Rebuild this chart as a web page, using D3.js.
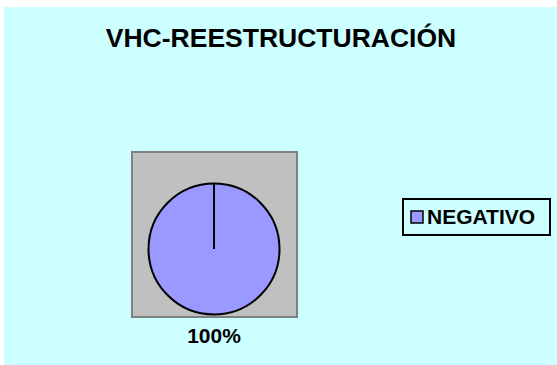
<!DOCTYPE html>
<html>
<head>
<meta charset="utf-8">
<script src="https://cdn.jsdelivr.net/npm/d3@7"></script>
<style>
  html, body { margin: 0; padding: 0; background: #ffffff; }
  #my_dataviz { width: 557px; height: 365px; }
  text { font-family: "Liberation Sans", Arial, sans-serif; font-weight: bold; fill: #000; }
</style>
</head>
<body>
<div id="my_dataviz"></div>
<script>
// chart data
var title = "VHC-REESTRUCTURACIÓN";
var categories = ["NEGATIVO"];
var values = [100];
var colors = ["#9999FF"];

var width = 557, height = 365;

var svg = d3.select("#my_dataviz")
  .append("svg")
  .attr("width", width)
  .attr("height", height)
  .style("display", "block");

// chart area background
svg.append("rect")
  .attr("x", 4).attr("y", 7)
  .attr("width", width - 4).attr("height", height - 7)
  .attr("fill", "#CCFFFF");

svg.append("text")
  .attr("x", 281).attr("y", 47)
  .attr("text-anchor", "middle")
  .style("font-size", "26.5px")
  .text(title);

// plot area (grey square)
svg.append("rect")
  .attr("x", 132).attr("y", 152)
  .attr("width", 165).attr("height", 165)
  .attr("fill", "#C0C0C0")
  .attr("stroke", "#808080")
  .attr("stroke-width", 2);

var cx = 214, cy = 249, r = 65.5;
var total = d3.sum(values);

var pie = d3.pie().sort(null).value(function(d) { return d; });
var arc = d3.arc().innerRadius(0).outerRadius(r);

var g = svg.append("g").attr("transform", "translate(" + cx + "," + cy + ")");

var arcs = pie(values);
g.selectAll("path.slice")
  .data(arcs)
  .enter()
  .append("path")
  .attr("class", "slice")
  .attr("d", arc)
  .attr("fill", function(d, i) { return colors[i]; })
  .attr("stroke", "#000")
  .attr("stroke-width", 2);

// slice boundary lines (a full pie still shows the radius at 12 o'clock)
g.selectAll("line.edge")
  .data(arcs)
  .enter()
  .append("line")
  .attr("class", "edge")
  .attr("x1", 0).attr("y1", 0)
  .attr("x2", function(d) { return r * Math.sin(d.startAngle); })
  .attr("y2", function(d) { return -r * Math.cos(d.startAngle); })
  .attr("stroke", "#000")
  .attr("stroke-width", 2);

// percentage labels under the pie
svg.selectAll("text.pct")
  .data(arcs)
  .enter()
  .append("text")
  .attr("class", "pct")
  .attr("x", cx)
  .attr("y", 343)
  .attr("text-anchor", "middle")
  .style("font-size", "21px")
  .text(function(d) { return d3.format(".0%")(d.value / total); });

// legend
var legend = svg.append("g").attr("transform", "translate(403,199)");
legend.append("rect")
  .attr("width", 147).attr("height", 36)
  .attr("fill", "#CCFFFF")
  .attr("stroke", "#000")
  .attr("stroke-width", 2);

var items = legend.selectAll("g.item")
  .data(categories)
  .enter()
  .append("g")
  .attr("class", "item")
  .attr("transform", function(d, i) { return "translate(8," + (12 + i * 24) + ")"; });

items.append("rect")
  .attr("width", 12).attr("height", 12)
  .attr("fill", function(d, i) { return colors[i]; })
  .attr("stroke", "#000")
  .attr("stroke-width", 1.5);

items.append("text")
  .attr("x", 16).attr("y", 13)
  .style("font-size", "21px")
  .text(function(d) { return d; });
</script>
</body>
</html>
